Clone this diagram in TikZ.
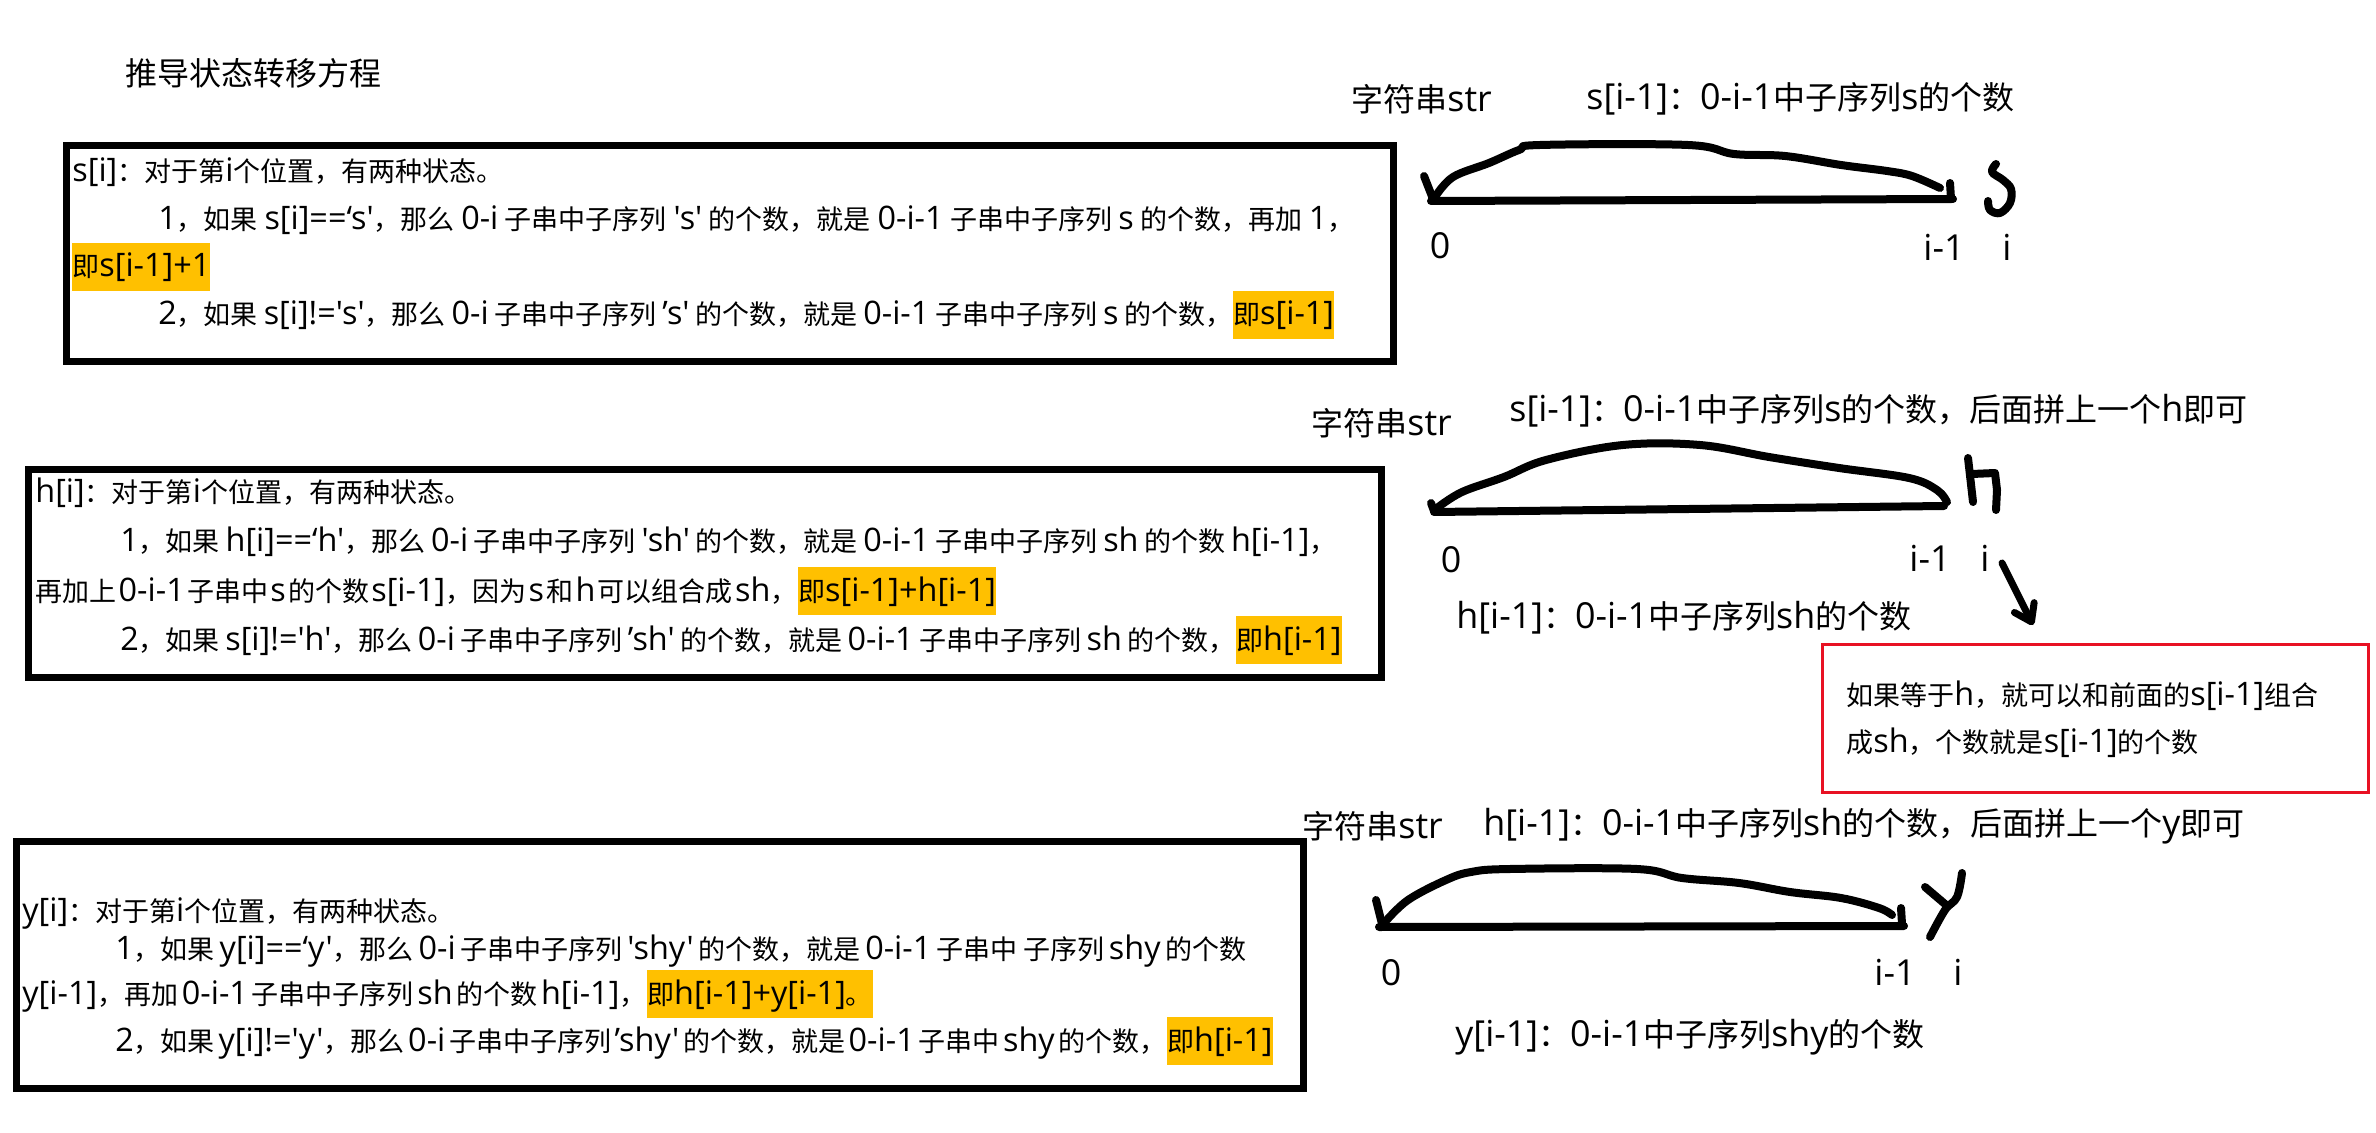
\documentclass[tikz,border=0pt]{standalone}
\usepackage{fontspec}
\setmainfont{Open Sans}[Scale=1.12,Ligatures=TeXOff]
\newfontfamily\cjkfont{Noto Sans CJK SC}[Ligatures=TeXOff]
\newfontfamily\latfontA{Open Sans}[Scale=1.12,Ligatures=TeXOff]
\newfontfamily\latfontB{Open Sans}[Scale=1.2,Ligatures=TeXOff]
\let\latfont\latfontA
\newXeTeXintercharclass\CJKcls
\newXeTeXintercharclass\CJKpun
\newcount\cjkcc
\cjkcc="3000 \loop \XeTeXcharclass\cjkcc=\CJKpun \advance\cjkcc by 1 \ifnum\cjkcc<"3040 \repeat
\cjkcc="4E00 \loop \XeTeXcharclass\cjkcc=\CJKcls \advance\cjkcc by 1 \ifnum\cjkcc<"A000 \repeat
\cjkcc="FF00 \loop \XeTeXcharclass\cjkcc=\CJKpun \advance\cjkcc by 1 \ifnum\cjkcc<"FFF0 \repeat
\XeTeXcharclass"2018=0
\XeTeXcharclass"2019=0
\XeTeXinterchartoks 0 \CJKcls={\hskip0pt plus1fil\cjkfont}
\XeTeXinterchartoks \CJKcls 0={\hskip0pt plus1fil\latfont}
\XeTeXinterchartoks 0 \CJKpun={\cjkfont}
\XeTeXinterchartoks \CJKpun 0={\latfont}
\XeTeXinterchartoks 4095 \CJKcls={\cjkfont}
\XeTeXinterchartoks 4095 \CJKpun={\cjkfont}
\XeTeXinterchartoks 4095 0={\latfont}
\XeTeXinterchartokenstate=1
\newcommand\fitline[2]{\makebox[#1][s]{#2}}
\usetikzlibrary{arrows.meta}
\definecolor{hlc}{HTML}{FFC000}
\definecolor{redb}{HTML}{E81123}
\tikzset{
  bt/.style={inner sep=0pt, anchor=west, text height=17pt, text depth=7pt, font={\fontsize{13.5pt}{16pt}\selectfont\let\latfont\latfontB}},
  hl/.style={bt, fill=hlc},
  lbl/.style={inner sep=0pt, anchor=west, font=\fontsize{16pt}{19pt}\selectfont},
  num/.style={inner sep=0pt, anchor=center, font=\fontsize{16pt}{19pt}\selectfont},
  boxline/.style={draw=black, line width=3.5pt},
  pen/.style={line width=4pt, line cap=round, line join=round},
}
\begin{document}
\begin{tikzpicture}[x=0.5pt,y=-0.5pt]
\useasboundingbox[fill=white] (0,0) rectangle (2376,1133);

% title
\node[lbl] (title) at (125,73) {推导状态转移方程};

% ---------- box 1 ----------
\draw[boxline] (66,146) rectangle (1393,362);
\node[bt] (b1l1) at (72,172) {s[i]：对于第i个位置，有两种状态。};
\node[bt] (b1l2) at (158,220) {\fitline{598pt}{1，如果s[i]==‘s'，那么0-i子串中子序列's'的个数，就是0-i-1子串中子序列 s的个数，再加1，}};
\node[hl, minimum width=69pt] (b1l3) at (72,267) {即s[i-1]+1};
\node[bt] (b1l4) at (158,315) {\fitline{537pt}{2，如果s[i]!='s'，那么0-i子串中子序列’s'的个数，就是0-i-1子串中子序列s的个数，}};
\node[hl, minimum width=50pt] (b1l4h) at (b1l4.east) {即s[i-1]};

% ---------- box 2 ----------
\draw[boxline] (28,470) rectangle (1381,677);
\node[bt] (b2l1) at (35,493) {h[i]：对于第i个位置，有两种状态。};
\node[bt] (b2l2) at (120,542) {\fitline{608pt}{1，如果h[i]==‘h'，那么0-i子串中子序列'sh'的个数，就是0-i-1子串中子序列 sh的个数h[i-1]，}};
\node[bt] (b2l3) at (35,591) {\fitline{381pt}{再加上0-i-1子串中s的个数s[i-1]，因为s和h可以组合成sh，}};
\node[hl, minimum width=98pt] (b2l3h) at (b2l3.east) {即s[i-1]+h[i-1]};
\node[bt] (b2l4) at (120,640) {\fitline{557.5pt}{2，如果s[i]!='h'，那么0-i子串中子序列’sh'的个数，就是0-i-1子串中子序列sh的个数，}};
\node[hl, minimum width=51pt] (b2l4h) at (b2l4.east) {即h[i-1]};

% ---------- box 3 ----------
\draw[boxline] (16,841) rectangle (1303,1088);
\node[bt] (b3l1) at (22,911) {y[i]：对于第i个位置，有两种状态。};
\node[bt] (b3l2) at (115,949) {\fitline{565.5pt}{1，如果y[i]==‘y'，那么0-i子串中子序列'shy'的个数，就是0-i-1子串中 子序列shy的个数}};
\node[bt] (b3l3) at (22,994) {\fitline{312pt}{y[i-1]，再加0-i-1子串中子序列sh的个数h[i-1]，}};
\node[hl, minimum width=112.5pt] (b3l3h) at (b3l3.east) {即h[i-1]+y[i-1]。};
\node[bt] (b3l4) at (115,1041) {\fitline{525.5pt}{2，如果y[i]!='y'，那么0-i子串中子序列’shy'的个数，就是0-i-1子串中shy的个数，}};
\node[hl, minimum width=51.5pt] (b3l4h) at (b3l4.east) {即h[i-1]};

% ---------- sketch 1 ----------
\node[lbl] (s1str) at (1351,99) {字符串str};
\node[lbl] (s1lab) at (1586,99) {s[i-1]：0-i-1中子序列s的个数};
\draw[pen] (1424,176) -- (1433,199);
\draw[pen] (1431,201) -- (1953,199);
\draw[pen] (1950,183) -- (1951,199);
\draw[pen] plot[smooth, tension=0.6] coordinates {(1435,197) (1453,177) (1489,163) (1519,150) (1540,145) (1688,145) (1734,154) (1785,156) (1841,165) (1887,171) (1912,176) (1940,188)};
\draw[pen] plot[smooth, tension=0.6] coordinates {(1996,164) (1992,172) (2003,180) (2011,189) (2010,203) (2000,213) (1990,210) (1988,201)};
\node[num] (s1zero) at (1440,246) {0};
\node[num] (s1im) at (1944,247) {i-1};
\node[num] (s1i) at (2007,247) {i};

% ---------- sketch 2 ----------
\node[lbl] (s2str) at (1311,423) {字符串str};
\node[lbl] (s2lab) at (1509,411) {s[i-1]：0-i-1中子序列s的个数，后面拼上一个h即可};
\draw[pen] (1431,503) -- (1434,511);
\draw[pen] (1434,512) -- (1944,506);
\draw[pen] plot[smooth, tension=0.6] coordinates {(1437,508) (1462,492) (1504,477) (1546,460) (1623,445) (1700,445) (1769,457) (1839,468) (1909,478) (1937,490) (1947,502)};
\draw[pen] (1968,458) -- (1973,502);
\draw[pen] (1972,474) -- (1995,473) -- (1997,490) -- (1996,510);
\node[num] (s2zero) at (1451,560) {0};
\node[num] (s2im) at (1930,558) {i-1};
\node[num] (s2i) at (1985,558) {i};
\node[lbl] (s2low) at (1456,618) {h[i-1]：0-i-1中子序列sh的个数};
\coordinate (arS) at (2002,563);
\coordinate (arE) at (2033,625);
\draw[line width=3.5pt, line cap=round, -{Straight Barb[length=8pt,width=11pt,round]}] (arS) -- (arE);

% red note
\draw[redb, line width=1.5pt] (1822,644) rectangle (2368,792);
\node[bt] (n1) at (1846,695) {如果等于h，就可以和前面的s[i-1]组合};
\node[bt] (n2) at (1846,742) {成sh，个数就是s[i-1]的个数};

% ---------- sketch 3 ----------
\node[lbl] (s3str) at (1302,826) {字符串str};
\node[lbl] (s3lab) at (1483,826) {h[i-1]：0-i-1中子序列sh的个数，后面拼上一个y即可};
\draw[pen] (1376,900) -- (1382,924);
\draw[pen] (1379,927) -- (1904,926);
\draw[pen] (1901,908) -- (1902,924);
\draw[pen] plot[smooth, tension=0.6] coordinates {(1385,922) (1408,900) (1446,880) (1471,872) (1510,869) (1637,869) (1682,878) (1739,883) (1790,892) (1841,898) (1879,908) (1892,915)};
\draw[pen] (1925,887) -- (1945,904);
\draw[pen] plot[smooth, tension=0.6] coordinates {(1962,873) (1957,897) (1945,910) (1930,937)};
\node[num] (s3zero) at (1391,973) {0};
\node[num] (s3im) at (1895,972) {i-1};
\node[num] (s3i) at (1958,972) {i};
\node[lbl] (s3low) at (1455,1037) {y[i-1]：0-i-1中子序列shy的个数};
\end{tikzpicture}
\end{document}
